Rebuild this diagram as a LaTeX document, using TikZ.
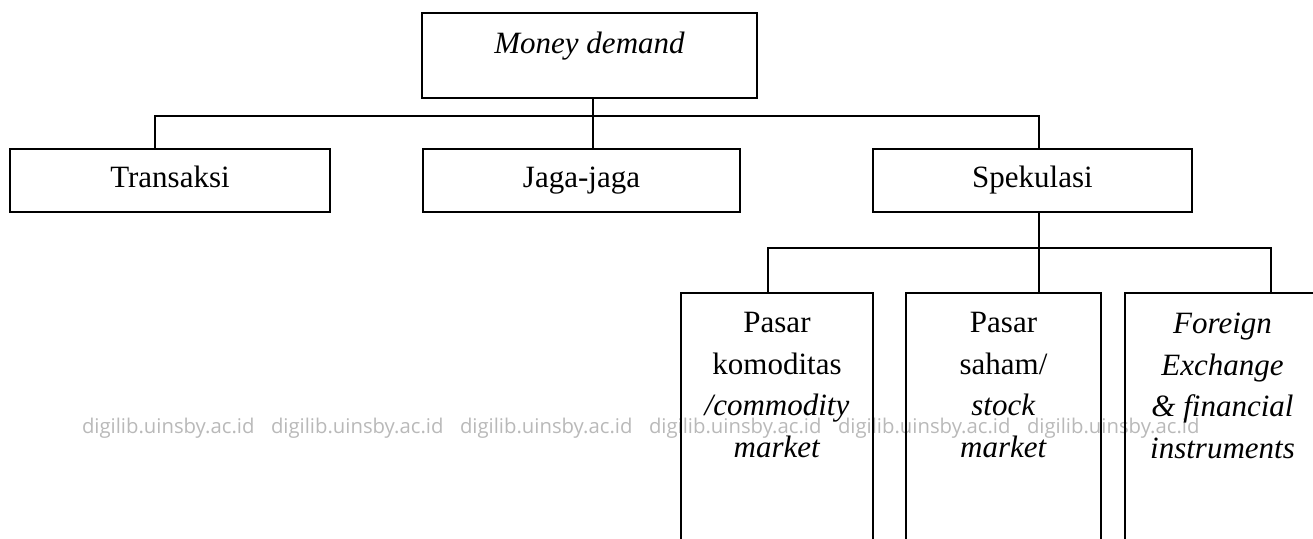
\documentclass[tikz,border=0pt]{standalone}
\usepackage{fontspec}
\setmainfont{Liberation Serif}
\newfontfamily\wmfont{Open Sans}
\usepackage{tikz}
\definecolor{wmgray}{RGB}{185,185,185}

\begin{document}
\begin{tikzpicture}[x=1pt, y=-1pt, line width=2pt,
    box/.style={draw, rectangle, inner sep=0pt, minimum height=63pt, text height=21pt, text depth=7pt, font=\fontsize{31}{41.5}\selectfont},
    tall/.style={draw, rectangle, inner sep=0pt, anchor=north, minimum width=#1, minimum height=300pt},
    txt/.style={anchor=north, inner sep=0pt, align=center, font=\fontsize{31}{41.5}\selectfont},
    wm/.style={anchor=base west, inner sep=0pt, text=wmgray, font=\wmfont\fontsize{20.3}{24}\selectfont}]

    \useasboundingbox (0,0) rectangle (1313,538);
    \clip (0,0) rectangle (1313,538);

    \foreach \i in {0,...,5}
        \draw(81+189*\i,433) node[wm] (w\i) {digilib.uinsby.ac.id};

    \draw(589.5,55.5) node[draw, rectangle, inner sep=0pt, minimum width=335pt, minimum height=85pt, text depth=26pt, font=\fontsize{31}{41}\selectfont\itshape] (m) {Money demand};
    \draw(170,180.5) node[box, minimum width=320pt] (t) {Transaksi};
    \draw(581.5,180.5) node[box, minimum width=317pt] (j) {Jaga-jaga};
    \draw(1032.5,180.5) node[box, minimum width=319pt] (s) {Spekulasi};
    \draw ([xshift=3.5pt]m.south) -- ([xshift=3.5pt]m.south |- j.north);
    \draw ([xshift=-15pt]t.north) -- ++(0,-32) -| ([xshift=6.5pt]s.north);

    \draw(777,292) node[tall=192pt] (c) {};
    \draw(1003.5,292) node[tall=195pt] (k) {};
    \draw(1222.5,292) node[tall=195pt] (f) {};
    \draw ([xshift=6.5pt]s.south) -- ([xshift=6.5pt]s.south |- k.north);
    \draw ([xshift=-9pt]c.north) -- ++(0,-44) -| ([xshift=48.5pt]f.north);

    \draw(c.north) node[txt, yshift=-19.5pt] (ct) {Pasar\\komoditas\\\textit{/commodity}\\\textit{market}};
    \draw(k.north) node[txt, yshift=-19.5pt] (kt) {Pasar\\saham/\\\textit{stock}\\\textit{market}};
    \draw(f.north) node[txt, yshift=-20pt, font=\fontsize{31}{41.5}\selectfont\itshape] (ft) {Foreign\\Exchange\\\& financial\\instruments};

\end{tikzpicture}
\end{document}
